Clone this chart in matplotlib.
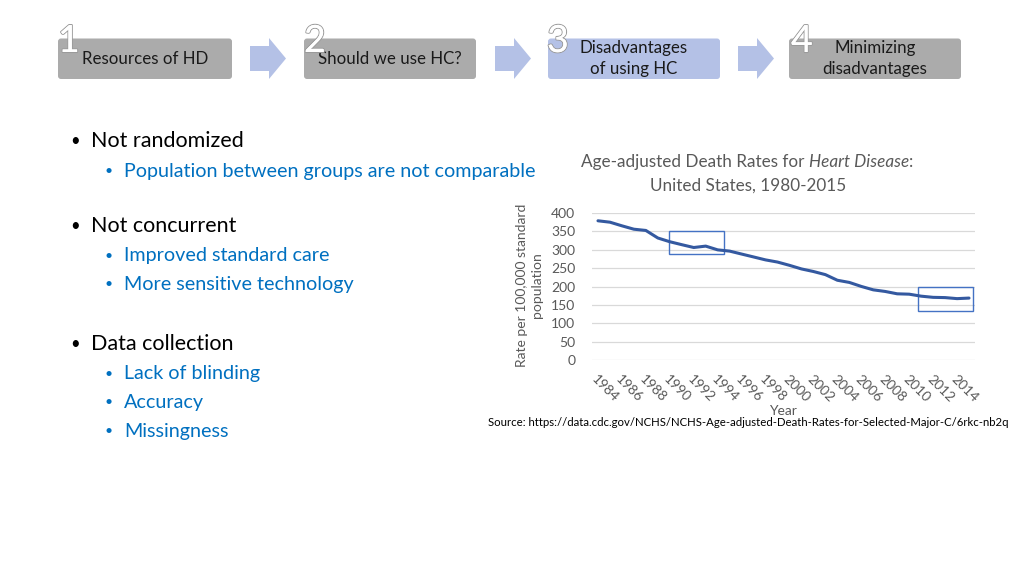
import matplotlib.pyplot as plt
import matplotlib.patheffects as pe
from matplotlib.patches import FancyBboxPatch, Polygon, Rectangle

plt.rcParams['font.family'] = ['Lato', 'DejaVu Sans']

# DATA
years = list(range(1984, 2016))
rates = [378.8, 375.0, 365.1, 355.9, 352.5, 332.0, 321.8, 313.8, 306.1, 309.9,
         299.7, 296.3, 288.3, 280.4, 272.4, 266.5, 257.6, 247.8, 240.8, 232.3,
         217.0, 211.1, 200.2, 190.9, 186.5, 180.1, 179.1, 173.7, 170.5, 169.8,
         167.0, 168.5]
yticks = [0, 50, 100, 150, 200, 250, 300, 350, 400]
xtick_years = list(range(1984, 2016, 2))
# highlight boxes (year range, value range)
highlights = [((1989.96, 1994.55), (288, 352)), ((2010.76, 2015.35), (133, 198))]

steps = ['Resources of HD', 'Should we use HC?', 'Disadvantages\nof using HC',
         'Minimizing\ndisadvantages']
bullets = [
    ('Not randomized', ['Population between groups are not comparable']),
    ('Not concurrent', ['Improved standard care', 'More sensitive technology']),
    ('Data collection', ['Lack of blinding', 'Accuracy', 'Missingness']),
]
source = 'Source: https://data.cdc.gov/NCHS/NCHS-Age-adjusted-Death-Rates-for-Selected-Major-C/6rkc-nb2q'

GRAY_BOX = '#ABABAB'
BLUE_BOX = '#B4C1E6'
TXT_BLUE = '#0070C0'
AX_GRAY = '#595959'

fig = plt.figure(figsize=(10.24, 5.76), dpi=100)
bg = fig.add_axes([0, 0, 1, 1])
bg.set_xlim(0, 1024)
bg.set_ylim(576, 0)
bg.axis('off')

# process boxes
box_x = [(58, 232), (304, 476), (548, 720), (789, 961)]
box_col = [GRAY_BOX, GRAY_BOX, BLUE_BOX, GRAY_BOX]
digit_x = [58, 304, 547, 791]
for i, ((x0, x1), lab) in enumerate(zip(box_x, steps)):
    bg.add_patch(FancyBboxPatch((x0, 38.5), x1 - x0, 40.5,
                                boxstyle='round,pad=0,rounding_size=3',
                                fc=box_col[i], ec='none'))
    bg.text((x0 + x1) / 2, 58.5, lab, ha='center', va='center', fontsize=12.2,
            color='#1a1a1a', linespacing=1.4)
    t = bg.text(digit_x[i], 52, str(i + 1), ha='left', va='baseline',
                fontsize=27, color='white')
    t.set_path_effects([pe.withStroke(linewidth=1.5, foreground='#9a9a9a'),
                        pe.Normal()])

# arrows between boxes
for ax0 in [250, 495, 738]:
    pts = [(ax0, 46), (ax0 + 19, 46), (ax0 + 19, 38), (ax0 + 36, 58.5),
           (ax0 + 19, 79), (ax0 + 19, 71), (ax0, 71)]
    bg.add_patch(Polygon(pts, closed=True, fc=BLUE_BOX, ec='none'))

# bullet list
y_main = [141, 226, 344]
for (head, subs), y in zip(bullets, y_main):
    bg.text(70, y, '•', ha='left', va='center', fontsize=12, color='black')
    bg.text(91, y, head, ha='left', va='center', fontsize=15.5, color='black')
    for j, s in enumerate(subs):
        yy = y + 30 + j * 28.5
        bg.text(105, yy, '•', ha='left', va='center', fontsize=10, color=TXT_BLUE)
        bg.text(124, yy, s, ha='left', va='center', fontsize=14.2, color=TXT_BLUE)

# chart title (italic part)
fig.canvas.draw()
r = fig.canvas.get_renderer()
parts = [('Age-adjusted Death Rates for ', 'normal'), ('Heart Disease', 'italic'),
         (':', 'normal')]
tmp = [bg.text(0, 0, p, fontsize=12.3, style=s, color=AX_GRAY) for p, s in parts]
widths = [t.get_window_extent(r).width for t in tmp]
x = 747 - sum(widths) / 2
for t, w in zip(tmp, widths):
    t.set_position((x, 162))
    t.set_va('center')
    x += w
bg.text(748, 186, 'United States, 1980-2015', ha='center', va='center',
        fontsize=12.3, color=AX_GRAY)

# chart
ax = fig.add_axes([592 / 1024, 1 - 360 / 576, 383 / 1024, 147 / 576])
ax.plot(years, rates, color='#3459A0', lw=2.2, solid_capstyle='round')
for (xa, xb), (ya, yb) in highlights:
    ax.add_patch(Rectangle((xa, ya), xb - xa, yb - ya, fill=False,
                           ec='#4472C4', lw=1))
ax.set_xlim(years[0] - 0.5, years[-1] + 0.5)
ax.set_ylim(0, 400)
ax.set_yticks(yticks)
ax.set_yticklabels([str(v) for v in yticks], fontsize=10, color=AX_GRAY)
ax.set_xticks(xtick_years)
ax.set_xticklabels([str(v) for v in xtick_years], rotation=-45, ha='left',
                   va='top', rotation_mode='anchor', fontsize=10, color=AX_GRAY)
ax.tick_params(length=0)
ax.tick_params(axis='y', pad=12)
ax.tick_params(axis='x', pad=9)
ax.grid(axis='y', color='#D9D9D9', lw=0.9)
ax.set_axisbelow(True)
for s in ax.spines.values():
    s.set_visible(False)

bg.text(529, 285, 'Rate per 100,000 standard\npopulation', rotation=90,
        ha='center', va='center', fontsize=10, color=AX_GRAY, linespacing=1.3)
bg.text(783, 411, 'Year', ha='center', va='center', fontsize=10, color=AX_GRAY)
bg.text(488, 422, source, ha='left', va='center', fontsize=8.2, color='black')

fig.savefig('out.png', dpi=100)
